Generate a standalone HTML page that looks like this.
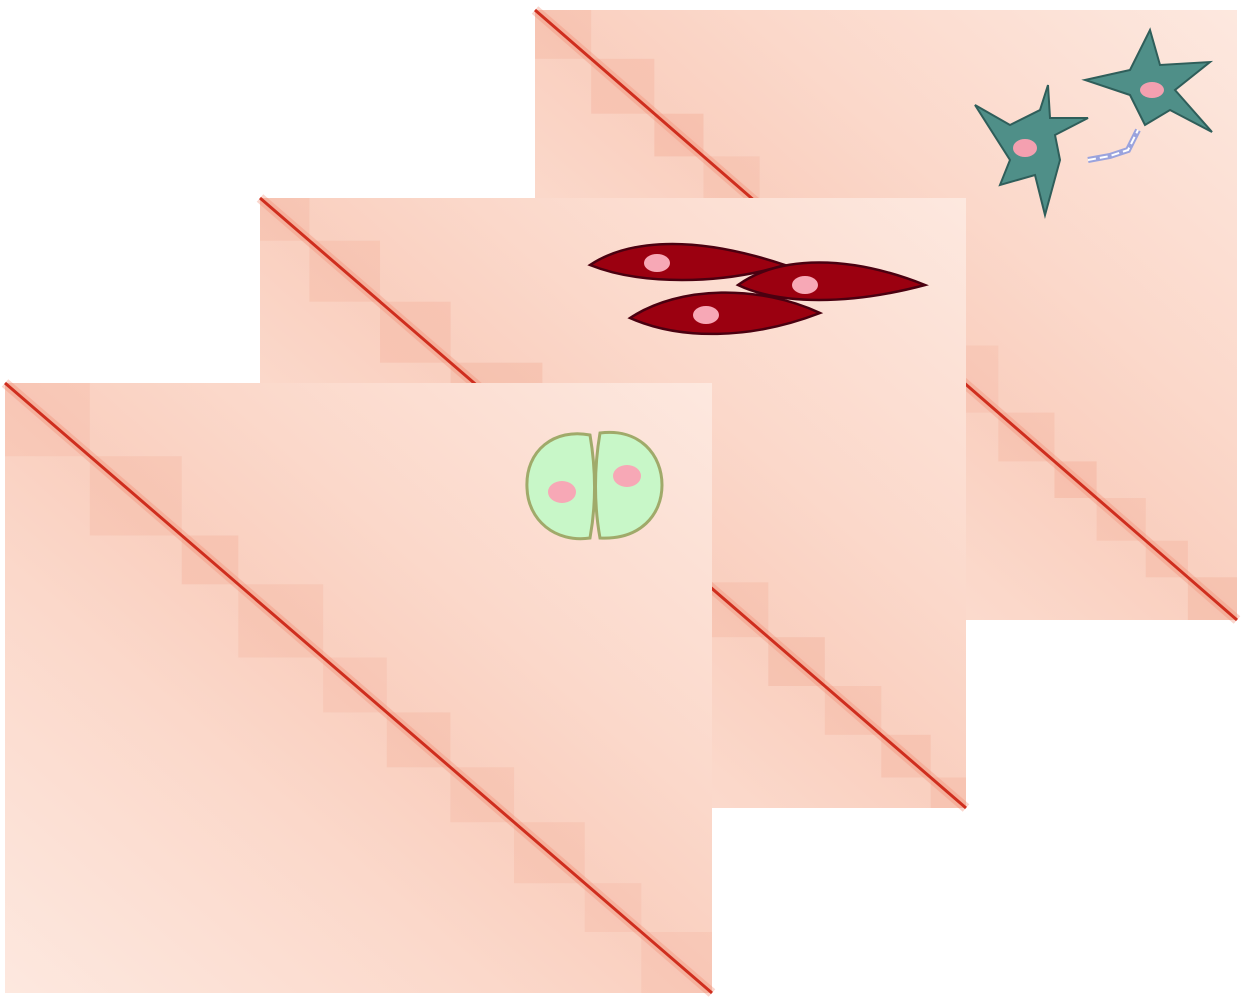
<!DOCTYPE html>
<html><head><meta charset="utf-8">
<style>
html,body{margin:0;padding:0;background:#fff;width:1245px;height:999px;overflow:hidden}
svg{display:block}
</style></head>
<body>
<svg id="chart" width="1245" height="999" viewBox="0 0 1245 999" xmlns="http://www.w3.org/2000/svg">
<defs>
<linearGradient id="bg" x1="1" y1="0" x2="0" y2="1">
<stop offset="0" stop-color="#fde8df"/>
<stop offset="0.35" stop-color="#fbd8ca"/>
<stop offset="0.5" stop-color="#f9cfbf"/>
<stop offset="0.65" stop-color="#fbd8ca"/>
<stop offset="1" stop-color="#fde8df"/>
</linearGradient>
</defs>
<g id="panels"></g>
<g id="icons"></g>
</svg>
<script>
const panelNames = ['neuron-heatmap','fibroblast-heatmap','dividing-cell-heatmap'];
const tadBoundsNeuron = [0, 0.08, 0.17, 0.24, 0.32, 0.55, 0.66, 0.74, 0.8, 0.87, 0.93, 1];
const tadStrengthNeuron = [0.5, 0.6, 0.8, 0.4, 0.3, 0.3, 0.5, 0.8, 0.5, 0.6, 0.7];
const tadBoundsFibro = [0, 0.07, 0.17, 0.27, 0.4, 0.53, 0.63, 0.72, 0.8, 0.88, 0.95, 1];
const tadStrengthFibro = [0.5, 0.5, 0.6, 0.7, 0.3, 0.3, 0.5, 0.7, 0.5, 0.6, 0.6];
const tadBoundsDiv = [0, 0.12, 0.25, 0.33, 0.45, 0.54, 0.63, 0.72, 0.82, 0.9, 1];
const tadStrengthDiv = [0.3, 0.4, 0.6, 0.4, 0.3, 0.5, 0.4, 0.4, 0.3, 0.3];

const layout = [
 {x:535,y:10,w:702,h:610,b:tadBoundsNeuron,s:tadStrengthNeuron},
 {x:260,y:198,w:706,h:610,b:tadBoundsFibro,s:tadStrengthFibro},
 {x:5,y:383,w:707,h:610,b:tadBoundsDiv,s:tadStrengthDiv}
];
const NS='http://www.w3.org/2000/svg';
const g=document.getElementById('panels');
function mk(t,a,p){const e=document.createElementNS(NS,t);for(const k in a)e.setAttribute(k,a[k]);p.appendChild(e);return e;}
layout.forEach((P,i)=>{
  const pg=mk('g',{},g);
  
  
  mk('rect',{x:P.x,y:P.y,width:P.w,height:P.h,fill:'url(#bg)'},pg);
  const sx=f=>P.x+f*P.w, sy=f=>P.y+f*P.h;
  for(let j=0;j<P.s.length;j++){
    const a=P.b[j], c=P.b[j+1];
    const r=mk('rect',{x:sx(a),y:sy(a),width:sx(c)-sx(a),height:sy(c)-sy(a),fill:'#f2a088','fill-opacity':0.1+0.25*P.s[j]},pg);
    
    
  }
  mk('line',{x1:P.x,y1:P.y,x2:P.x+P.w,y2:P.y+P.h,stroke:'#f08a70','stroke-width':10,'stroke-opacity':0.35},pg);
  const d=mk('line',{x1:P.x,y1:P.y,x2:P.x+P.w,y2:P.y+P.h,stroke:'#cf2e1e','stroke-width':3},pg);
  
  
});
const ic=document.getElementById('icons');
ic.innerHTML=`
<g>
 <path d="M975,105 L1010,125 L1040,110 L1048,85 L1050,118 L1088,118 L1055,135 L1060,160 L1045,215 L1035,175 L1000,185 L1010,160 Z" fill="#4f8f88" stroke="#2f5e5a" stroke-width="2"/>
 <ellipse cx="1025" cy="148" rx="12" ry="9" fill="#f4a0b0"/>
 <path d="M1085,80 L1130,70 L1150,30 L1160,65 L1210,62 L1175,90 L1212,132 L1170,110 L1145,125 L1130,95 Z" fill="#4f8f88" stroke="#2f5e5a" stroke-width="2"/>
 <ellipse cx="1152" cy="90" rx="12" ry="8" fill="#f4a0b0"/>
 <path d="M1088,160 L1110,156 L1128,150 L1138,130" fill="none" stroke="#9aa3dd" stroke-width="6"/>
 <path d="M1088,160 L1110,156 L1128,150 L1138,130" fill="none" stroke="#fff" stroke-width="2" stroke-dasharray="8 4"/>
</g>
<g stroke="#4a0010" stroke-width="2.5" fill="#9b0010">
 <path d="M590,265 C620,245 680,230 785,265 C720,285 640,285 590,265 Z"/>
 <ellipse cx="657" cy="263" rx="13" ry="9" fill="#f7a8b6" stroke="none"/>
 <path d="M738,285 C780,255 850,255 925,285 C850,305 780,305 738,285 Z"/>
 <ellipse cx="805" cy="285" rx="13" ry="9" fill="#f7a8b6" stroke="none"/>
 <path d="M630,318 C680,285 760,285 820,313 C750,340 680,340 630,318 Z"/>
 <ellipse cx="706" cy="315" rx="13" ry="9" fill="#f7a8b6" stroke="none"/>
</g>
<g stroke="#a0aa6a" stroke-width="3" fill="#c8f7c8">
 <path d="M590,435 C555,428 525,450 527,488 C528,520 555,543 590,538 C596,505 596,470 590,435 Z"/>
 <path d="M600,433 C640,428 662,455 662,485 C662,515 640,540 600,538 C594,505 594,468 600,433 Z"/>
 <ellipse cx="562" cy="492" rx="14" ry="11" fill="#f7a8b6" stroke="none"/>
 <ellipse cx="627" cy="476" rx="14" ry="11" fill="#f7a8b6" stroke="none"/>
</g>`;
</script>
</body></html>
